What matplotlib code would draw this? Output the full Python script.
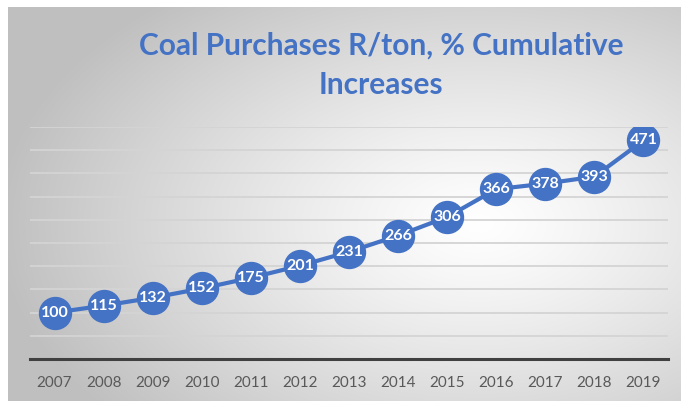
import numpy as np
import matplotlib
matplotlib.use("Agg")
import matplotlib.pyplot as plt

# data
years = ['2007', '2008', '2009', '2010', '2011', '2012', '2013',
         '2014', '2015', '2016', '2017', '2018', '2019']
values = [100, 115, 132, 152, 175, 201, 231, 266, 306, 366, 378, 393, 471]
title = "Coal Purchases R/ton, % Cumulative\nIncreases"

blue = '#4472C4'
W, H = 681, 401

plt.rcParams['font.family'] = ['Lato', 'DejaVu Sans']
fig = plt.figure(figsize=(W / 100, H / 100), dpi=100)
fig.patch.set_facecolor('white')

# grey panel with a soft radial highlight
bg = fig.add_axes([8 / W, 0, 1 - 8 / W, 1 - 7 / H])
yy, xx = np.mgrid[0:1:300j, 0:1:500j]
d = np.sqrt(((xx - 0.70) / 0.72) ** 2 + ((yy - 0.55) / 0.75) ** 2)
shade = 1.0 - 0.25 * np.clip(d, 0, 1) ** 1.2
bg.imshow(np.dstack([shade] * 3), extent=[0, 1, 0, 1], aspect='auto')
bg.axis('off')

# plot area
ax = fig.add_axes([30 / W, 42 / H, (668 - 30) / W, (359 - 127) / H])
ax.set_facecolor('none')
x = np.arange(len(years))
ax.plot(x, values, color=blue, lw=3, marker='o', ms=23,
        mfc=blue, mec=blue, zorder=3)
for xi, v in zip(x, values):
    ax.text(xi, v, str(v), color='white', fontsize=11.5, fontweight='bold',
            ha='center', va='center', zorder=4)

ax.set_xlim(-0.5, len(years) - 0.5)
ax.set_ylim(0, 500)
ax.set_yticks(np.arange(50, 501, 50))
ax.yaxis.grid(True, color='#d4d4d4', lw=1.3)
ax.set_axisbelow(True)
ax.tick_params(axis='y', left=False, labelleft=False)
ax.set_xticks(x)
ax.set_xticklabels(years, color='#595959', fontsize=11)
ax.tick_params(axis='x', length=0, pad=12)
for s in ['top', 'left', 'right']:
    ax.spines[s].set_visible(False)
ax.spines['bottom'].set_color('#404040')
ax.spines['bottom'].set_linewidth(2.2)

fig.text(381 / W, 1 - 65 / H, title, color=blue, fontsize=21.5,
         fontweight='bold', ha='center', va='center', linespacing=1.5)

fig.savefig('out.png', dpi=100)
